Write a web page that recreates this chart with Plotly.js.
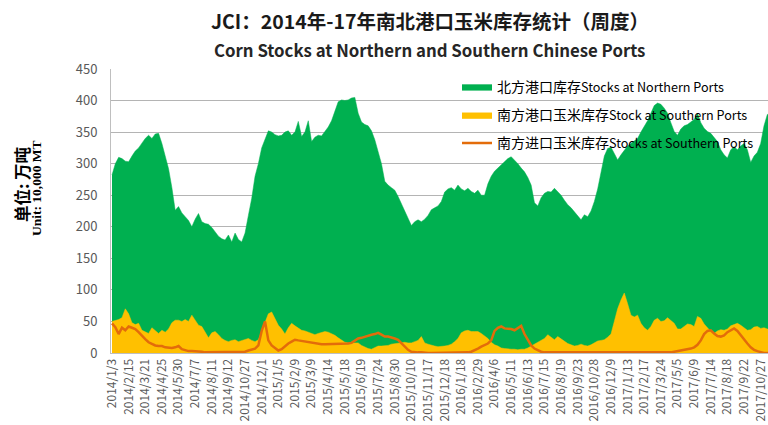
<!DOCTYPE html>
<html>
<head>
<meta charset="utf-8">
<script src="https://cdn.plot.ly/plotly-3.0.1.min.js"></script>
<style>
html,body{margin:0;padding:0;background:#fff;overflow:hidden;}
#chart{width:768px;height:425px;}
</style>
</head>
<body>
<div id="chart"></div>
<script>
// Tick labels (every 5th weekly observation)
const tickLabels = ["2014/1/3","2014/2/15","2014/3/21","2014/4/25","2014/5/30","2014/7/7","2014/8/11","2014/9/12","2014/10/27","2014/12/1",
"2015/1/5","2015/2/9","2015/3/9","2015/4/14","2015/5/18","2015/6/19","2015/7/24","2015/8/30","2015/10/10","2015/11/17",
"2015/12/18","2016/1/18","2016/2/29","2016/4/6","2016/5/11","2016/6/13","2016/7/15","2016/8/19","2016/9/23","2016/10/28",
"2016/12/9","2017/1/13","2017/2/17","2017/3/24","2017/5/5","2017/6/9","2017/7/14","2017/8/18","2017/9/22","2017/10/27"];
const weeksPerLabel = 5;

// Series names (legend)
const nameNorth = '北方港口库存<span style="font-size:12.6px">Stocks at Northern Ports</span>';
const nameSouth = '南方港口玉米库存<span style="font-size:12.6px">Stock at Southern Ports</span>';
const nameImport = '南方进口玉米库存<span style="font-size:12.6px">Stocks at Southern Ports</span>';

// 北方港口库存 (万吨), weekly
const north = [282,300,310,308,304,303,312,320,325,332,340,345,340,347,348,332,310,292,262,226,
232,222,216,210,200,212,221,208,205,204,199,192,185,181,179,187,176,190,180,176,
190,218,245,280,300,325,340,352,350,346,344,345,350,352,345,350,367,343,350,368,
335,342,345,344,351,358,368,385,398,401,400,401,404,405,380,366,362,360,352,338,
320,300,272,266,262,258,248,236,224,214,202,208,211,208,212,218,227,230,233,240,
255,260,262,258,266,260,257,261,256,253,258,250,250,268,280,288,293,298,304,308,
311,306,300,293,287,278,266,238,233,246,253,256,255,261,256,250,242,235,230,224,
218,211,219,216,225,240,260,285,312,324,326,316,306,314,322,328,332,336,340,350,
359,368,380,392,396,394,388,380,365,351,345,355,360,362,366,370,380,365,356,351,
348,342,335,322,314,309,322,327,322,328,332,322,302,312,318,332,360,378,380];

// 南方港口玉米库存 (万吨), weekly
const south = [50,51,53,56,70,62,48,45,47,36,34,31,40,35,31,36,33,38,48,52,
52,50,53,50,60,52,44,42,33,24,32,34,29,23,20,18,20,21,18,20,
21,23,20,18,21,34,50,62,65,54,44,38,30,40,47,43,40,36,35,33,
30,29,31,32,34,33,31,28,24,20,17,16,16,15,16,12,9,7,6,8,
11,11,11,12,14,15,16,17,17,16,16,18,20,26,16,14,12,11,10,10,
11,12,14,18,23,32,35,36,34,34,34,31,27,23,17,13,11,8,7,6,
6,6,5,6,6,8,11,14,18,21,23,29,25,21,26,22,18,15,13,11,
12,14,12,11,13,16,19,20,21,25,30,50,70,84,95,78,60,57,60,47,
40,36,42,52,55,50,51,56,52,47,38,38,42,46,45,42,58,55,46,40,
34,31,35,37,36,38,43,45,47,44,40,36,37,41,42,39,40,38,38];

// 南方进口玉米库存 (万吨), weekly
const imported = [47,41,30,40,36,42,40,38,33,27,22,17,14,12,11,11,9,8,8,9,
11,6,4,3,3,3,2,2,1,1,1,1,1,1,1,1,1,1,2,2,
2,4,5,7,12,35,50,20,12,8,4,6,11,15,18,21,20,19,18,17,
16,16,15,14,14,14,14,15,14,14,15,15,16,19,23,24,26,27,29,30,
32,29,26,26,25,23,21,16,10,5,2,1,1,1,0,0,0,0,0,0,
0,0,0,0,1,1,1,1,2,4,7,10,12,15,20,35,40,42,39,39,
38,36,40,43,30,22,12,7,4,2,1,1,0,0,0,0,0,0,0,0,
0,0,0,0,0,0,0,0,0,0,0,0,0,0,0,0,0,0,0,0,
0,0,0,0,0,0,0,0,1,2,3,4,4,5,7,9,13,20,30,35,
36,31,27,26,28,33,36,39,35,28,22,15,9,5,3,1,0,0,0];

const idx = north.map((_, i) => i);
const tickVals = tickLabels.map((_, k) => k * weeksPerLabel);

const traces = [
  {x: idx, y: north, name: nameNorth, type: 'scatter', mode: 'lines', fill: 'tozeroy',
   line: {color: '#00B050', width: 0.5}, fillcolor: '#00B050', legendgroup: 'a', hoverinfo: 'skip'},
  {x: idx, y: south, name: nameSouth, type: 'scatter', mode: 'lines', fill: 'tozeroy',
   line: {color: '#FFC000', width: 0.5}, fillcolor: '#FFC000', legendgroup: 'b', hoverinfo: 'skip'},
  {x: idx, y: imported, name: nameImport, type: 'scatter', mode: 'lines',
   line: {color: '#E36C0A', width: 2.5}, legendgroup: 'c', hoverinfo: 'skip'}
];

const layout = {
  width: 768, height: 425,
  margin: {l: 111, r: 0, t: 69, b: 72, pad: 0},
  paper_bgcolor: '#ffffff', plot_bgcolor: '#ffffff',
  font: {family: '"Noto Sans CJK SC", "Noto Sans", sans-serif', color: '#595959'},
  title: {
    text: '<b>JCI：2014年-17年南北港口玉米库存统计（周度）</b>',
    font: {family: '"Noto Sans CJK SC", sans-serif', size: 19.5, color: '#1a1a1a'},
    xref: 'paper', x: 0.4855, xanchor: 'center',
    yref: 'container', y: 1 - 22/425, yanchor: 'middle'
  },
  annotations: [
    {text: '<b>Corn Stocks at Northern and Southern Chinese Ports</b>', xref: 'paper', yref: 'paper',
     x: 0.4855, y: (353-50)/284, xanchor: 'center', yanchor: 'middle', showarrow: false,
     font: {family: '"Noto Sans CJK SC", sans-serif', size: 16.8, color: '#262626'}},
    {text: '<b>单位: 万吨</b>', xref: 'paper', yref: 'paper', textangle: -90,
     x: (22-111)/657, y: (353-184)/284, xanchor: 'center', yanchor: 'middle', showarrow: false,
     font: {family: '"Noto Sans CJK SC", sans-serif', size: 16.5, color: '#000000'}},
    {text: '<b>Unit: 10,000 MT</b>', xref: 'paper', yref: 'paper', textangle: -90,
     x: (36-111)/657, y: (353-188)/284, xanchor: 'center', yanchor: 'middle', showarrow: false,
     font: {family: '"Liberation Serif", serif', size: 13.5, color: '#000000'}}
  ],
  xaxis: {
    range: [-0.3, 197.2], tickmode: 'array', tickvals: tickVals, ticktext: tickLabels,
    tickangle: -90, tickfont: {size: 12, color: '#595959'}, showgrid: false, zeroline: false,
    showline: true, linecolor: '#BFBFBF', linewidth: 1, ticks: '', fixedrange: true
  },
  yaxis: {
    range: [0, 450], dtick: 50, tick0: 0, showgrid: true, gridcolor: '#B4B4B4', gridwidth: 1,
    zeroline: false, showline: true, linecolor: '#BFBFBF', linewidth: 1, ticks: '',
    tickfont: {size: 13, color: '#595959'}, ticklabelstandoff: 10, fixedrange: true
  },
  showlegend: true,
  legend: {
    x: (457-111)/657, y: (353-71)/284, xanchor: 'left', yanchor: 'top',
    bgcolor: 'rgba(0,0,0,0)', borderwidth: 0,
    font: {family: '"Noto Sans CJK SC", sans-serif', size: 14, color: '#000000'},
    traceorder: 'grouped', tracegroupgap: 7, itemwidth: 30
  }
};

Plotly.newPlot('chart', traces, layout, {displayModeBar: false, staticPlot: true});
</script>
</body>
</html>
